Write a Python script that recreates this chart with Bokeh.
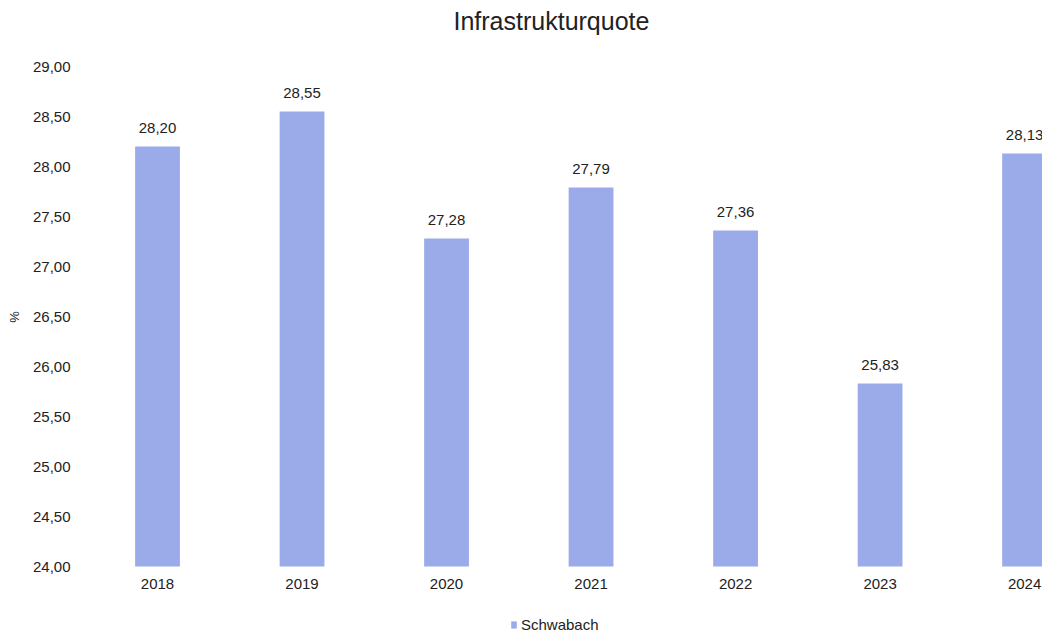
from bokeh.plotting import figure
from bokeh.models import (ColumnDataSource, FixedTicker, CustomJSTickFormatter, Range1d,
                          Legend, LegendItem, Label, LabelSet)
from bokeh.core.properties import value
from bokeh.embed import file_html
from bokeh.resources import INLINE

years = ["2018", "2019", "2020", "2021", "2022", "2023", "2024"]
values = [28.20, 28.55, 27.28, 27.79, 27.36, 25.83, 28.13]
series_name = "Schwabach"
title_text = "Infrastrukturquote"
y_ticks = [24.0, 24.5, 25.0, 25.5, 26.0, 26.5, 27.0, 27.5, 28.0, 28.5, 29.0]
y_base = 24.0

FONT = "Liberation Sans"
BAR = "#9BABE9"
TXT = "#222222"

xs = list(range(len(years)))
labels = [f"{v:.2f}".replace(".", ",") for v in values]
src = ColumnDataSource(dict(x=xs, top=values, label=labels,
                            year=years, base=[y_base] * len(years)))

# frame spans the full height 0..633 px; 24..29 occupies 66..566 px,
# the space above holds the title, the space below the year labels and legend
p = figure(width=1042, height=633, output_backend="svg", toolbar_location=None,
           x_range=Range1d(-0.443, 6.124), y_range=Range1d(23.33, 29.66),
           min_border_left=93, min_border_right=0, min_border_top=0, min_border_bottom=0)
p.outline_line_color = None
p.grid.visible = False

p.add_layout(Label(x=360, y=613, x_units="screen", y_units="screen", text=title_text,
                   text_align="left", text_baseline="middle", text_font=FONT,
                   text_font_size="25px", text_color=TXT))

r = p.vbar(x="x", top="top", bottom=y_base, width=0.31, source=src, fill_color=BAR, line_color=None)

p.add_layout(LabelSet(x="x", y="top", text="label", source=src, text_align="center",
                      text_baseline="bottom", y_offset=14, text_font=value(FONT),
                      text_font_size=value("15px"), text_color=TXT))
p.add_layout(LabelSet(x="x", y="base", text="year", source=src, text_align="center",
                      text_baseline="top", y_offset=-12, text_font=value(FONT),
                      text_font_size=value("15px"), text_color=TXT))

p.xaxis.visible = False
p.yaxis.ticker = FixedTicker(ticks=y_ticks)
p.yaxis.formatter = CustomJSTickFormatter(code="return tick.toFixed(2).replace('.', ',');")
p.yaxis.axis_line_color = None
p.yaxis.major_tick_line_color = None
p.yaxis.minor_tick_line_color = None
p.yaxis.major_label_text_font = FONT
p.yaxis.major_label_text_font_size = "15px"
p.yaxis.major_label_text_color = TXT
p.yaxis.major_label_standoff = 17
p.yaxis.axis_label = "%"
p.yaxis.axis_label_text_font = FONT
p.yaxis.axis_label_text_font_size = "13px"
p.yaxis.axis_label_text_font_style = "normal"
p.yaxis.axis_label_text_color = TXT
p.yaxis.axis_label_standoff = 8

legend = Legend(items=[LegendItem(label=series_name, renderers=[r])], orientation="horizontal",
                location=(417, 0), border_line_color=None, background_fill_alpha=0,
                glyph_width=7, glyph_height=9, label_text_font=FONT, label_text_font_size="15px",
                label_text_color=TXT, label_standoff=4, padding=0, margin=0)
p.add_layout(legend)

open("out.html", "w").write(file_html(p, INLINE))
